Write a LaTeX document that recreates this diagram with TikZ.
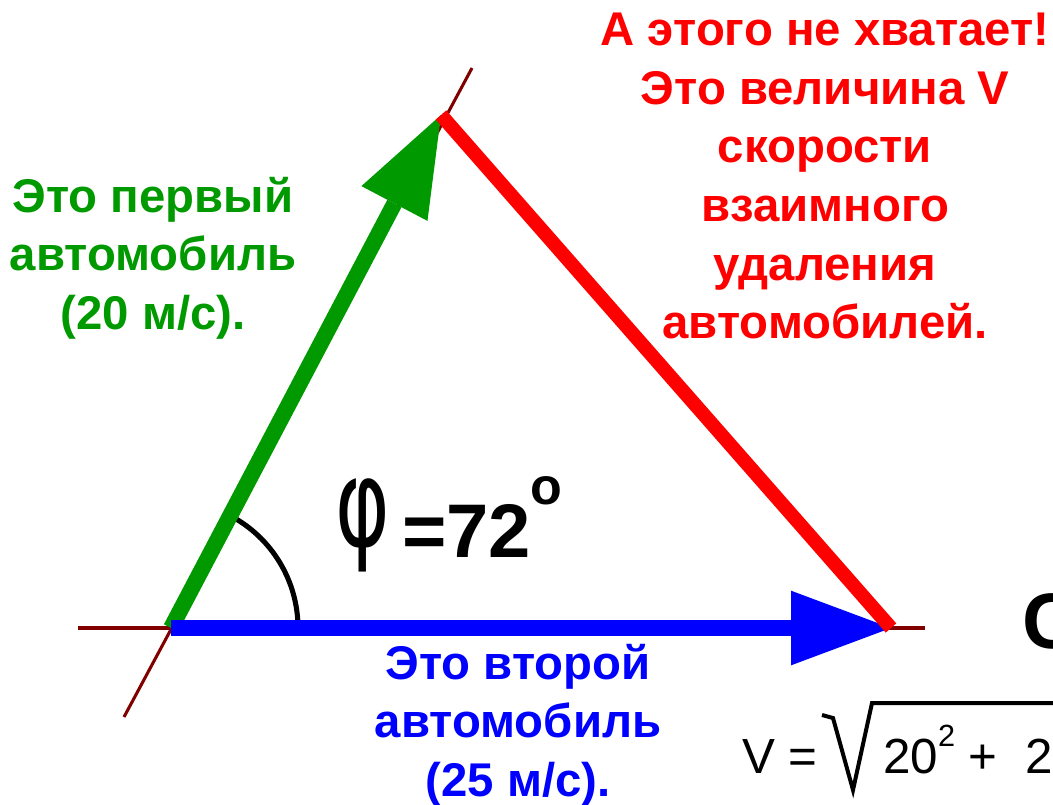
\documentclass[tikz,border=0pt]{standalone}
\usepackage{fontspec}
\usepackage{graphicx}
\setmainfont{Liberation Sans}
\newfontfamily\greek{DejaVu Sans}
\usetikzlibrary{arrows.meta,calc}
\definecolor{ink}{HTML}{000000}
\definecolor{axis}{HTML}{800000}
\definecolor{first}{HTML}{009900}
\definecolor{second}{HTML}{0000FF}
\definecolor{gap}{HTML}{FF0000}
\tikzset{
  guide/.style={draw=axis,line width=2.3pt},
  vec/.style={line width=12pt,-{Triangle[length=75pt,width=56pt,line width=0pt]}},
  side/.style={draw=gap,line width=10.5pt},
  note/.style={align=center,inner sep=0pt,font=\bfseries\fontsize{35.5}{44}\selectfont},
  big/.style={inner sep=0pt,font=\bfseries\fontsize{57}{57}\selectfont,text=ink},
  eq/.style={inner sep=0pt,font=\fontsize{37}{37}\selectfont,text=ink},
}

\begin{document}
\begin{tikzpicture}[x=0.75pt,y=-0.75pt]
  \useasboundingbox (0,0) rectangle (1053,804);
  \clip (0,0) rectangle (1053,804);
  \coordinate (O) at (171,628);
  \coordinate (T) at (441,115);
  \coordinate (B) at (891,628);
  \coordinate (hl) at (78,628);
  \coordinate (hr) at (925,628);
  \coordinate (sl) at (124,717);
  \coordinate (su) at (472,68);

  \draw[guide] (hl) -- (hr);
  \draw[guide] (sl) -- (su);
  \draw[ink,line width=3.8pt] (O) ++(127,0) arc[start angle=0,end angle=-62,radius=127];
  \draw[vec,first] (O) -- (T);
  \draw[vec,second] (O) -- (B);
  \draw[side] (T) -- (B);

  \node[note,text=first] (one) at (153,258) {Это первый\\автомобиль\\(20 м/с).};
  \node[note,text=second] (two) at (518,725) {Это второй\\автомобиль\\(25 м/с).};
  \node[note,text=gap] (miss) at (825,176) {А этого не хватает!\\Это величина V\\скорости\\взаимного\\удаления\\автомобилей.};

  \node[inner sep=0pt,anchor=south west,text=ink] (phi) at (335,572) {\resizebox*{41pt}{70pt}{\greek φ}};
  \node[big,anchor=base west] (val) at (402,557) {=72};
  \node[big,anchor=south west,font=\bfseries\fontsize{39}{39}\selectfont] (deg) at (530,505) {o};

  \node[big,anchor=base west,font=\bfseries\fontsize{59}{59}\selectfont] (cut) at (1022,648) {С};

  \node[eq,anchor=base west] (lhs) at (742,773) {V =};
  \coordinate (r0) at (822,715);
  \coordinate (r1) at (833,718);
  \coordinate (r2) at (853,790);
  \coordinate (r3) at (872,703);
  \coordinate (r4) at (1060,703);
  \draw[ink,line width=3pt,line join=miter] (r0) -- (r1) -- (r2) -- (r3) -- (r4);
  \node[eq,anchor=base west] (rhs) at (883,773) {20\raisebox{20pt}{\fontsize{23}{23}\selectfont 2} +\ \ 2};
\end{tikzpicture}
\end{document}
